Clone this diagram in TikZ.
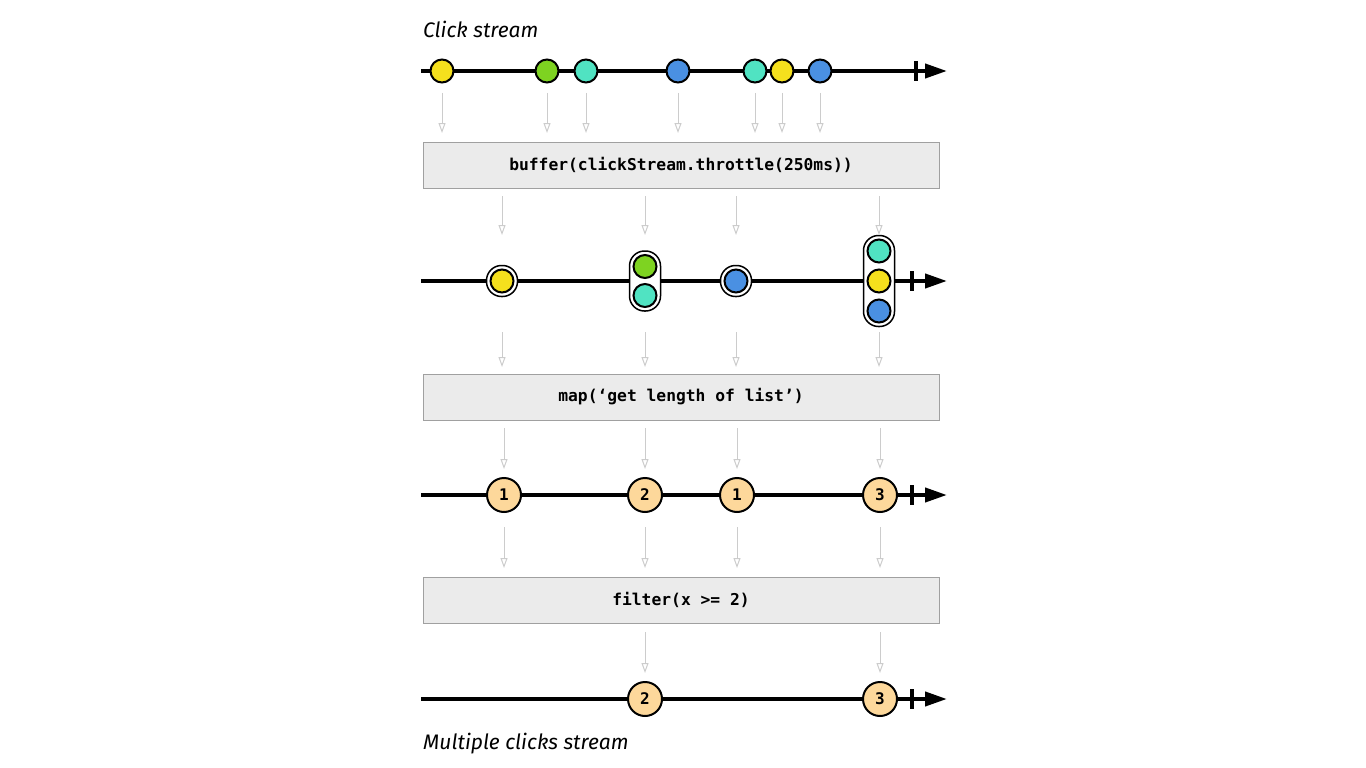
\documentclass[tikz,border=0pt]{standalone}
\usepackage{fontspec}
\setmonofont{DejaVu Sans Mono}
\newfontfamily\labelfont{Fira Sans}
\usetikzlibrary{arrows.meta}
\definecolor{yellowm}{HTML}{F5E01D}
\definecolor{greenm}{HTML}{7ED321}
\definecolor{tealm}{HTML}{50E3C2}
\definecolor{bluem}{HTML}{4A90E2}
\definecolor{orangem}{HTML}{FDD89B}
\definecolor{boxfill}{HTML}{EBEBEB}
\definecolor{boxborder}{HTML}{A0A0A0}
\definecolor{arrowgray}{HTML}{CCCCCC}
\begin{document}
\begin{tikzpicture}[x=1pt,y=-1pt,
  timeline/.style={line width=4pt,-{Triangle[length=22pt,width=14pt]}},
  tickmark/.style={line width=4pt},
  marble/.style={circle,draw=black,line width=2pt,minimum size=23pt,inner sep=0pt},
  nummarble/.style={marble,fill=orangem,minimum size=34pt,font=\ttfamily\bfseries\fontsize{16}{16}\selectfont},
  capsule/.style={draw=black,fill=white,line width=1.5pt,rounded corners=15pt,minimum width=31pt,inner sep=0pt},
  flow/.style={draw=arrowgray,line width=1pt,-{Triangle[open,length=10pt,width=7pt]}},
  opbox/.style={draw=boxborder,fill=boxfill,line width=1pt,minimum width=516pt,minimum height=46pt,inner sep=0pt,font=\ttfamily\bfseries\fontsize{16.3}{16.3}\selectfont},
  streamlabel/.style={anchor=base west,inner sep=0pt,font=\labelfont\itshape\fontsize{21}{21}\selectfont}
]
\useasboundingbox (0,0) rectangle (1366,768);

% labels
\node[streamlabel] (top) at (423,38) {Click stream};
\node[streamlabel] (bottom) at (423,749) {Multiple clicks stream};

% ---- timeline 1
\coordinate (t1s) at (421,71);
\coordinate (t1e) at (947,71);
\draw[timeline] (t1s) -- (t1e);
\coordinate (k1a) at (916,61); \coordinate (k1b) at (916,81);
\draw[tickmark] (k1a) -- (k1b);
\node[marble,fill=yellowm] (a1) at (442,71) {};
\node[marble,fill=greenm] (a2) at (547,71) {};
\node[marble,fill=tealm] (a3) at (586,71) {};
\node[marble,fill=bluem] (a4) at (678,71) {};
\node[marble,fill=tealm] (a5) at (755,71) {};
\node[marble,fill=yellowm] (a6) at (782,71) {};
\node[marble,fill=bluem] (a7) at (820,71) {};
\foreach \m in {a1,a2,a3,a4,a5,a6,a7}
  \draw[flow] ([yshift=-22pt]\m.center) -- ([yshift=-62pt]\m.center);

% ---- box 1
\node[opbox] (op1) at (681,165) {buffer(clickStream.throttle(250ms))};

% ---- timeline 2
\coordinate (t2s) at (421,281);
\coordinate (t2e) at (947,281);
\draw[timeline] (t2s) -- (t2e);
\coordinate (k2a) at (912,271); \coordinate (k2b) at (912,291);
\draw[tickmark] (k2a) -- (k2b);
\node[capsule,minimum height=31pt] (b1) at (502,281) {};
\node[marble,fill=yellowm] (b1m) at (502,281) {};
\node[capsule,minimum height=60pt] (b2) at (645,281) {};
\node[marble,fill=greenm] (b2a) at (645,266.5) {};
\node[marble,fill=tealm] (b2b) at (645,295.5) {};
\node[capsule,minimum height=31pt] (b3) at (736,281) {};
\node[marble,fill=bluem] (b3m) at (736,281) {};
\node[capsule,minimum height=91pt] (b4) at (879,281) {};
\node[marble,fill=tealm] (b4a) at (879,251) {};
\node[marble,fill=yellowm] (b4b) at (879,281) {};
\node[marble,fill=bluem] (b4c) at (879,311) {};
\foreach \m in {b1,b2,b3,b4}{
  \draw[flow] ([yshift=85pt]\m.center) -- ([yshift=46pt]\m.center);
  \draw[flow] ([yshift=-51pt]\m.center) -- ([yshift=-86pt]\m.center);
}

% ---- box 2
\node[opbox] (op2) at (681,397) {map(‘get length of list’)};

% ---- timeline 3
\coordinate (t3s) at (421,495);
\coordinate (t3e) at (947,495);
\draw[timeline] (t3s) -- (t3e);
\coordinate (k3a) at (912,485); \coordinate (k3b) at (912,505);
\draw[tickmark] (k3a) -- (k3b);
\node[nummarble] (c1) at (504,495) {1};
\node[nummarble] (c2) at (645,495) {2};
\node[nummarble] (c3) at (737,495) {1};
\node[nummarble] (c4) at (880,495) {3};
\foreach \m in {c1,c2,c3,c4}{
  \draw[flow] ([yshift=67pt]\m.center) -- ([yshift=26pt]\m.center);
  \draw[flow] ([yshift=-32pt]\m.center) -- ([yshift=-73pt]\m.center);
}

% ---- box 3
\node[opbox] (op3) at (681,600) {filter(x >= 2)};

% ---- timeline 4
\coordinate (t4s) at (421,699);
\coordinate (t4e) at (947,699);
\draw[timeline] (t4s) -- (t4e);
\coordinate (k4a) at (912,689); \coordinate (k4b) at (912,709);
\draw[tickmark] (k4a) -- (k4b);
\node[nummarble] (d1) at (645,699) {2};
\node[nummarble] (d2) at (880,699) {3};
\foreach \m in {d1,d2}
  \draw[flow] ([yshift=67pt]\m.center) -- ([yshift=26pt]\m.center);
\end{tikzpicture}
\end{document}
